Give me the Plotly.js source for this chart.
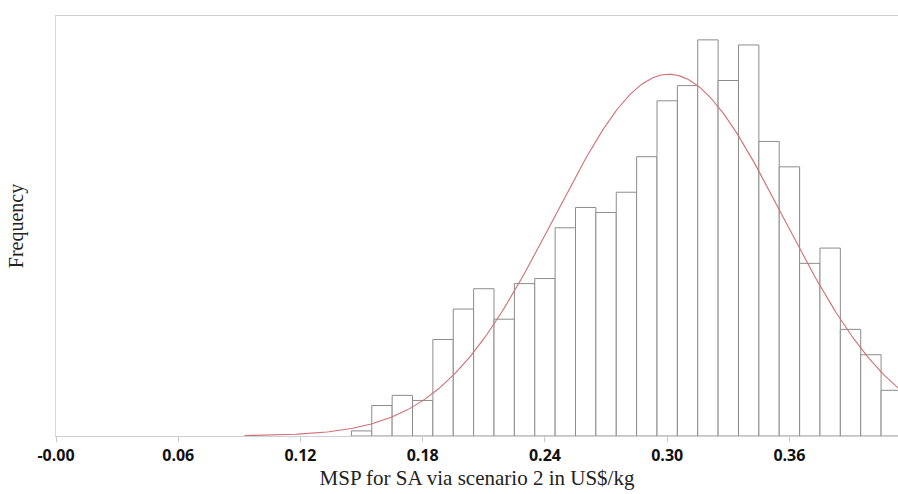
<!DOCTYPE html>
<html>
<head>
<meta charset="utf-8">
<script src="https://cdn.plot.ly/plotly-3.0.1.min.js"></script>
<style>html,body{margin:0;padding:0;background:#fff;}#chart{width:898px;height:494px;}</style>
</head>
<body>
<div id="chart"></div>
<script>
// Bin midpoints (US$/kg), bin width 0.01
const binMids = [0.15,0.16,0.17,0.18,0.19,0.20,0.21,0.22,0.23,0.24,0.25,0.26,0.27,0.28,0.29,
                 0.30,0.31,0.32,0.33,0.34,0.35,0.36,0.37,0.38,0.39,0.40,0.41];
// Frequencies
const counts = [1,6,8,7,19,25,29,23,30,31,41,45,44,48,55,66,69,78,70,77,58,53,34,37,21,16,9];
const binWidth = 0.01;
// Axis ticks
const tickVals = [0,0.06,0.12,0.18,0.24,0.30,0.36];
const tickLabels = ['-0.00','0.06','0.12','0.18','0.24','0.30','0.36'];
// Range over which the fitted normal curve is drawn
const fitStart = 0.0925, fitEnd = 0.42;

// Normal fit derived from the binned data
const n = counts.reduce((a,b)=>a+b,0);
const mean = counts.reduce((s,c,i)=>s+c*binMids[i],0)/n;
const sd = Math.sqrt(counts.reduce((s,c,i)=>s+c*(binMids[i]-mean)**2,0)/n);
const fitX = [], fitY = [];
const steps = 300;
for (let i=0;i<=steps;i++){
  const x = fitStart + (fitEnd-fitStart)*i/steps;
  fitX.push(x);
  fitY.push(n*binWidth/(sd*Math.sqrt(2*Math.PI))*Math.exp(-0.5*((x-mean)/sd)**2));
}

const bars = {
  type:'bar', x:binMids, y:counts, width:binWidth,
  marker:{color:'#ffffff', line:{color:'#8c8c8c', width:1}},
  hoverinfo:'x+y', showlegend:false
};
const fit = {
  type:'scatter', mode:'lines', x:fitX, y:fitY,
  line:{color:'#cf7074', width:1.1}, hoverinfo:'skip', showlegend:false
};

const layout = {
  width:898, height:494,
  margin:{l:56, r:0, t:16, b:58, pad:0},
  paper_bgcolor:'#ffffff', plot_bgcolor:'#ffffff',
  bargap:0,
  xaxis:{
    range:[0,0.4133], tickvals:tickVals, ticktext:tickLabels,
    ticks:'outside', ticklen:5, tickcolor:'#c8c8c8', tickwidth:1,
    showline:true, linecolor:'#d0d0d0', linewidth:1, mirror:true,
    showgrid:false, zeroline:false,
    tickfont:{family:'Open Sans, sans-serif', size:16, color:'#111111', weight:'bold'},
    title:{text:'MSP for SA via scenario 2 in US$/kg', standoff:5,
           font:{family:'Liberation Serif, serif', size:21, color:'#222222'}}
  },
  yaxis:{
    range:[0,82.7], showticklabels:false, ticks:'',
    showline:true, linecolor:'#d8d8d8', linewidth:1,
    showgrid:false, zeroline:false,
    title:{text:'Frequency', standoff:26,
           font:{family:'Liberation Serif, serif', size:20, color:'#222222'}}
  }
};

Plotly.newPlot('chart', [bars, fit], layout, {displayModeBar:false, staticPlot:true});
</script>
</body>
</html>
